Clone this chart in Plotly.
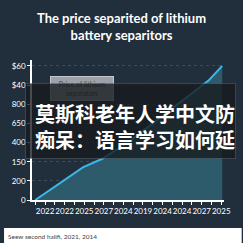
import plotly.graph_objects as go

# ---- data ----
x_labels = ["2022", "2022", "2025", "2027", "2024", "2019", "2024", "2024", "2027", "2025"]
y_labels = ["0", "200", "150", "400", "650", "800", "$40", "$60"]
series_x = [-0.5, 1.95, 2.9, 4.33, 8.38, 9.05]
series_y = [0.0, 1.72, 2.14, 3.08, 6.27, 7.0]

title_text = "The price separited of lithium<br>battery separitors"
tooltip_text = "Price of lithium<br>separators"
overlay_text = "莫斯科老年人学中文防<br>痴呆：语言学习如何延"
caption_text = "Seew second halifi, 2021, 2014"

W, H = 243, 243
NAVY = "#212e3c"

# tick positions (major at labels, minor halfway)
tickvals = []
ticktext = []
for k in range(-1, 2 * len(x_labels) - 1):
    v = k / 2
    tickvals.append(v)
    ticktext.append(x_labels[int(v)] if k % 2 == 0 and k >= 0 else "")

fig = go.Figure()
fig.add_trace(go.Scatter(
    x=series_x, y=series_y, mode="lines",
    line=dict(color="#3ab6ea", width=2),
    fill="tozeroy", fillcolor="#2d5b6b",
    hoverinfo="skip", showlegend=False,
))

ml, mr, mt, mb = 25, 12, 60, 43

fig.update_layout(
    width=W, height=H,
    margin=dict(l=ml, r=mr, t=mt, b=mb, pad=0),
    paper_bgcolor=NAVY, plot_bgcolor=NAVY,
    font=dict(family="Lato, Open Sans, sans-serif", color="white"),
    showlegend=False,
    xaxis=dict(
        range=[-0.667, 9.14], tickvals=tickvals, ticktext=ticktext,
        tickangle=0,
        ticks="outside", ticklen=3, tickcolor="white", tickwidth=1,
        showline=True, linecolor="white", linewidth=1.5,
        showgrid=False, zeroline=False,
        tickfont=dict(size=8, color="white", family="Lato, sans-serif"),
        fixedrange=True,
    ),
    yaxis=dict(
        range=[0, 7.31], tickvals=list(range(len(y_labels))), ticktext=y_labels,
        ticks="outside", ticklen=3, tickcolor="white",
        showline=True, linecolor="white", linewidth=1.5,
        showgrid=True, gridcolor="rgba(255,255,255,0.13)", griddash="dot", gridwidth=1,
        zeroline=False,
        tickfont=dict(size=8, color="white", family="Lato, sans-serif"),
        fixedrange=True,
    ),
)

def px_x(p):
    return (p - ml) / (W - ml - mr)

def px_y(p):
    return 1 - (p - mt) / (H - mt - mb)

shapes = [
    # white caption strip
    dict(type="rect", xref="paper", yref="paper",
         x0=px_x(-5), x1=px_x(250), y0=px_y(228), y1=px_y(250),
         fillcolor="white", line=dict(width=0), layer="above"),
]

annotations = [
    dict(text="<b>" + title_text + "</b>", xref="paper", yref="paper",
         x=px_x(121.5), y=px_y(26), xanchor="center", yanchor="middle",
         showarrow=False, font=dict(size=13, color="white", family="Lato, sans-serif")),
    dict(text=tooltip_text, xref="paper", yref="paper",
         x=px_x(79), y=px_y(88), xanchor="center", yanchor="middle",
         showarrow=False, bgcolor="#9ca2a7", bordercolor="#c4c8cc", borderwidth=1,
         borderpad=3, width=56,
         font=dict(size=7, color="#3a3f44", family="Lato, sans-serif")),
    # dark semi-transparent overlay box (drawn above the tooltip)
    dict(text=" ", xref="paper", yref="paper",
         x=px_x(17), y=px_y(83), xanchor="left", yanchor="top",
         width=209, height=74, showarrow=False,
         bgcolor="rgba(22,26,30,0.78)", bordercolor="rgba(120,130,140,0.35)", borderwidth=1,
         borderpad=0, font=dict(size=8)),
    dict(text="<b>" + overlay_text + "</b>", xref="paper", yref="paper",
         x=px_x(136), y=px_y(126), xanchor="center", yanchor="middle",
         showarrow=False,
         font=dict(size=20, color="white", family="Noto Sans CJK SC")),
    dict(text=caption_text, xref="paper", yref="paper",
         x=px_x(-3), y=px_y(236), xanchor="left", yanchor="middle",
         showarrow=False, font=dict(size=6.5, color="#444", family="Lato, sans-serif")),
]

fig.update_layout(shapes=shapes, annotations=annotations)
fig.write_html("out.html")
